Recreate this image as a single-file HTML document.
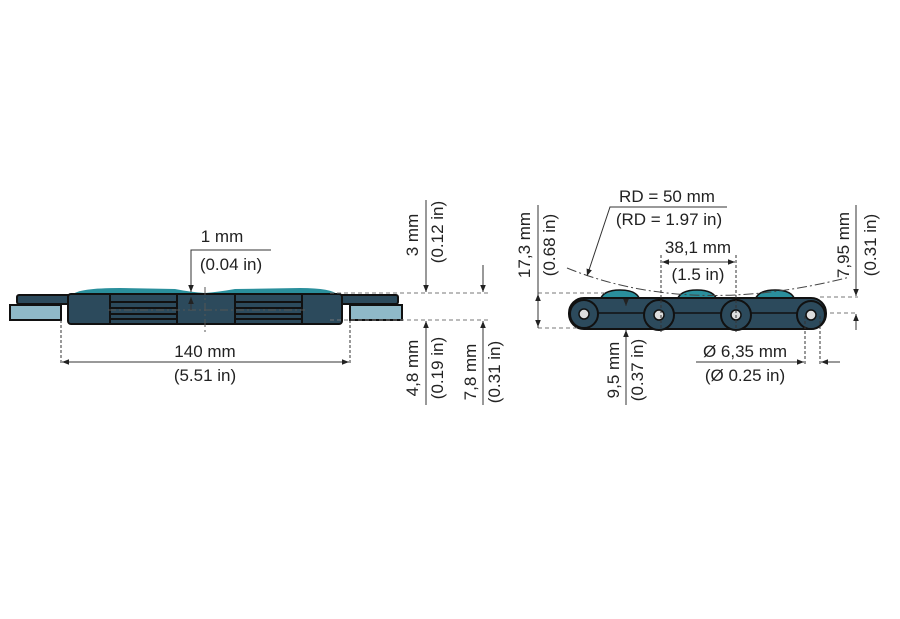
<!DOCTYPE html>
<html><head><meta charset="utf-8"><style>
html,body{margin:0;padding:0;background:#fff;}
svg{display:block;}
text{font-family:"Liberation Sans",sans-serif;font-size:17px;fill:#222;}
</style></head><body>
<svg width="900" height="619" viewBox="0 0 900 619" xmlns="http://www.w3.org/2000/svg">
<defs>
<marker id="a" viewBox="0 0 10 10" refX="10" refY="5" markerWidth="7" markerHeight="7" orient="auto-start-reverse"><path d="M0,1 L10,5 L0,9 z" fill="#222"/></marker>
</defs>
<!-- LEFT VIEW -->
<rect x="17" y="295" width="381" height="9" fill="#2c4a5c" stroke="#111" stroke-width="2" rx="2"/>
<rect x="10" y="305" width="51" height="15" fill="#8fb9c8" stroke="#111" stroke-width="2"/>
<rect x="350" y="305" width="52" height="15" fill="#8fb9c8" stroke="#111" stroke-width="2"/>
<path d="M72,295 Q78,288 120,288 L175,289 Q190,292 205,293 Q218,292 235,289 L300,288 Q332,288 338,295 Z" fill="#2a8f9c"/>
<rect x="68" y="294" width="274" height="30" fill="#2c4a5c" stroke="#111" stroke-width="2" rx="3"/>
<g stroke="#111" stroke-width="2">
<line x1="110" y1="294" x2="110" y2="324"/><line x1="177" y1="294" x2="177" y2="324"/>
<line x1="235" y1="294" x2="235" y2="324"/><line x1="302" y1="294" x2="302" y2="324"/>
<line x1="110" y1="302" x2="177" y2="302"/><line x1="110" y1="308" x2="177" y2="308"/><line x1="110" y1="314" x2="177" y2="314"/><line x1="110" y1="319" x2="177" y2="319"/>
<line x1="235" y1="302" x2="302" y2="302"/><line x1="235" y1="308" x2="302" y2="308"/><line x1="235" y1="314" x2="302" y2="314"/><line x1="235" y1="319" x2="302" y2="319"/>
</g>
<line x1="205" y1="287" x2="205" y2="332" stroke="#555" stroke-width="1" stroke-dasharray="8,3,2,3"/>
<line x1="108" y1="310" x2="305" y2="310" stroke="#555" stroke-width="1" stroke-dasharray="8,3,2,3"/>
<g stroke="#333" stroke-width="1" fill="none">
<line x1="61" y1="320" x2="61" y2="365" stroke-dasharray="3,2"/>
<line x1="350" y1="320" x2="350" y2="365" stroke-dasharray="3,2"/>
<line x1="62" y1="362" x2="349" y2="362" marker-start="url(#a)" marker-end="url(#a)"/>
<polyline points="271,250 191,250 191,292" marker-end="url(#a)"/>
<line x1="191" y1="310" x2="191" y2="297" marker-end="url(#a)"/>
<line x1="330" y1="293" x2="488" y2="293" stroke="#777" stroke-dasharray="4,3"/>
<line x1="330" y1="320" x2="488" y2="320" stroke="#777" stroke-dasharray="4,3"/>
<line x1="426" y1="200" x2="426" y2="292" marker-end="url(#a)"/>
<line x1="426" y1="405" x2="426" y2="321" marker-end="url(#a)"/>
<line x1="483" y1="265" x2="483" y2="292" marker-end="url(#a)"/>
<line x1="483" y1="405" x2="483" y2="321" marker-end="url(#a)"/>
</g>
<text x="222" y="242" text-anchor="middle">1 mm</text>
<text x="231" y="270" text-anchor="middle">(0.04 in)</text>
<text x="205" y="357" text-anchor="middle">140 mm</text>
<text x="205" y="381" text-anchor="middle">(5.51 in)</text>
<text transform="translate(418,235) rotate(-90)" text-anchor="middle">3 mm</text>
<text transform="translate(443,232) rotate(-90)" text-anchor="middle">(0.12 in)</text>
<text transform="translate(418,368) rotate(-90)" text-anchor="middle">4,8 mm</text>
<text transform="translate(443,368) rotate(-90)" text-anchor="middle">(0.19 in)</text>
<text transform="translate(476,372) rotate(-90)" text-anchor="middle">7,8 mm</text>
<text transform="translate(500,372) rotate(-90)" text-anchor="middle">(0.31 in)</text>
<!-- RIGHT VIEW -->
<g fill="#2a8f9c" stroke="#111" stroke-width="1.5">
<path d="M600,300 Q603,290 620,290 Q637,290 640,300 Z"/><path d="M677,300 Q680,290 697,290 Q714,290 717,300 Z"/><path d="M755,300 Q758,290 775,290 Q792,290 795,300 Z"/>
</g>
<rect x="569" y="298" width="257" height="31" rx="15" fill="#2c4a5c" stroke="#111" stroke-width="2"/>
<line x1="584" y1="313" x2="811" y2="313" stroke="#111" stroke-width="1.5"/>
<g fill="#2c4a5c" stroke="#111" stroke-width="2">
<circle cx="584" cy="314" r="14"/><circle cx="659" cy="315" r="15"/><circle cx="736" cy="315" r="15"/><circle cx="811" cy="315" r="14"/>
</g>
<g fill="#ddd" stroke="#111" stroke-width="1.5">
<circle cx="584" cy="314" r="5"/><circle cx="659" cy="315" r="5"/><circle cx="736" cy="315" r="5"/><circle cx="811" cy="315" r="5"/>
</g>
<path d="M567,268 Q690,318 850,277" fill="none" stroke="#444" stroke-width="1" stroke-dasharray="10,3,2,3"/>
<g stroke="#333" stroke-width="1" fill="none">
<polyline points="727,207 610,207 587,276" marker-end="url(#a)"/>
<line x1="661" y1="255" x2="661" y2="332" stroke-dasharray="3,2"/>
<line x1="736" y1="255" x2="736" y2="332" stroke-dasharray="3,2"/>
<line x1="662" y1="262" x2="735" y2="262" marker-start="url(#a)" marker-end="url(#a)"/>
<line x1="538" y1="293" x2="610" y2="293" stroke="#777" stroke-dasharray="4,3"/>
<line x1="538" y1="328" x2="580" y2="328" stroke="#777" stroke-dasharray="4,3"/>
<line x1="538" y1="205" x2="538" y2="328"/>
<line x1="538" y1="310" x2="538" y2="294" marker-end="url(#a)"/>
<line x1="538" y1="312" x2="538" y2="327" marker-end="url(#a)"/>
<line x1="626" y1="405" x2="626" y2="330" marker-end="url(#a)"/>
<line x1="626" y1="300" x2="626" y2="306" marker-end="url(#a)"/>
<line x1="820" y1="297" x2="858" y2="297" stroke="#777" stroke-dasharray="4,3"/>
<line x1="830" y1="313" x2="858" y2="313" stroke="#777" stroke-dasharray="4,3"/>
<line x1="856" y1="205" x2="856" y2="296" marker-end="url(#a)"/>
<line x1="856" y1="330" x2="856" y2="314" marker-end="url(#a)"/>
<line x1="805" y1="316" x2="805" y2="365" stroke-dasharray="3,2"/>
<line x1="820" y1="316" x2="820" y2="365" stroke-dasharray="3,2"/>
<line x1="696" y1="362" x2="804" y2="362" marker-end="url(#a)"/>
<line x1="840" y1="362" x2="821" y2="362" marker-end="url(#a)"/>
</g>
<text x="667" y="202" text-anchor="middle">RD = 50 mm</text>
<text x="669" y="225" text-anchor="middle">(RD = 1.97 in)</text>
<text x="698" y="253" text-anchor="middle">38,1 mm</text>
<text x="698" y="280" text-anchor="middle">(1.5 in)</text>
<text x="745" y="357" text-anchor="middle">Ø 6,35 mm</text>
<text x="745" y="381" text-anchor="middle">(Ø 0.25 in)</text>
<text transform="translate(530,245) rotate(-90)" text-anchor="middle">17,3 mm</text>
<text transform="translate(555,245) rotate(-90)" text-anchor="middle">(0.68 in)</text>
<text transform="translate(619,370) rotate(-90)" text-anchor="middle">9,5 mm</text>
<text transform="translate(643,370) rotate(-90)" text-anchor="middle">(0.37 in)</text>
<text transform="translate(849,245) rotate(-90)" text-anchor="middle">7,95 mm</text>
<text transform="translate(876,245) rotate(-90)" text-anchor="middle">(0.31 in)</text>
</svg>
</body></html>
